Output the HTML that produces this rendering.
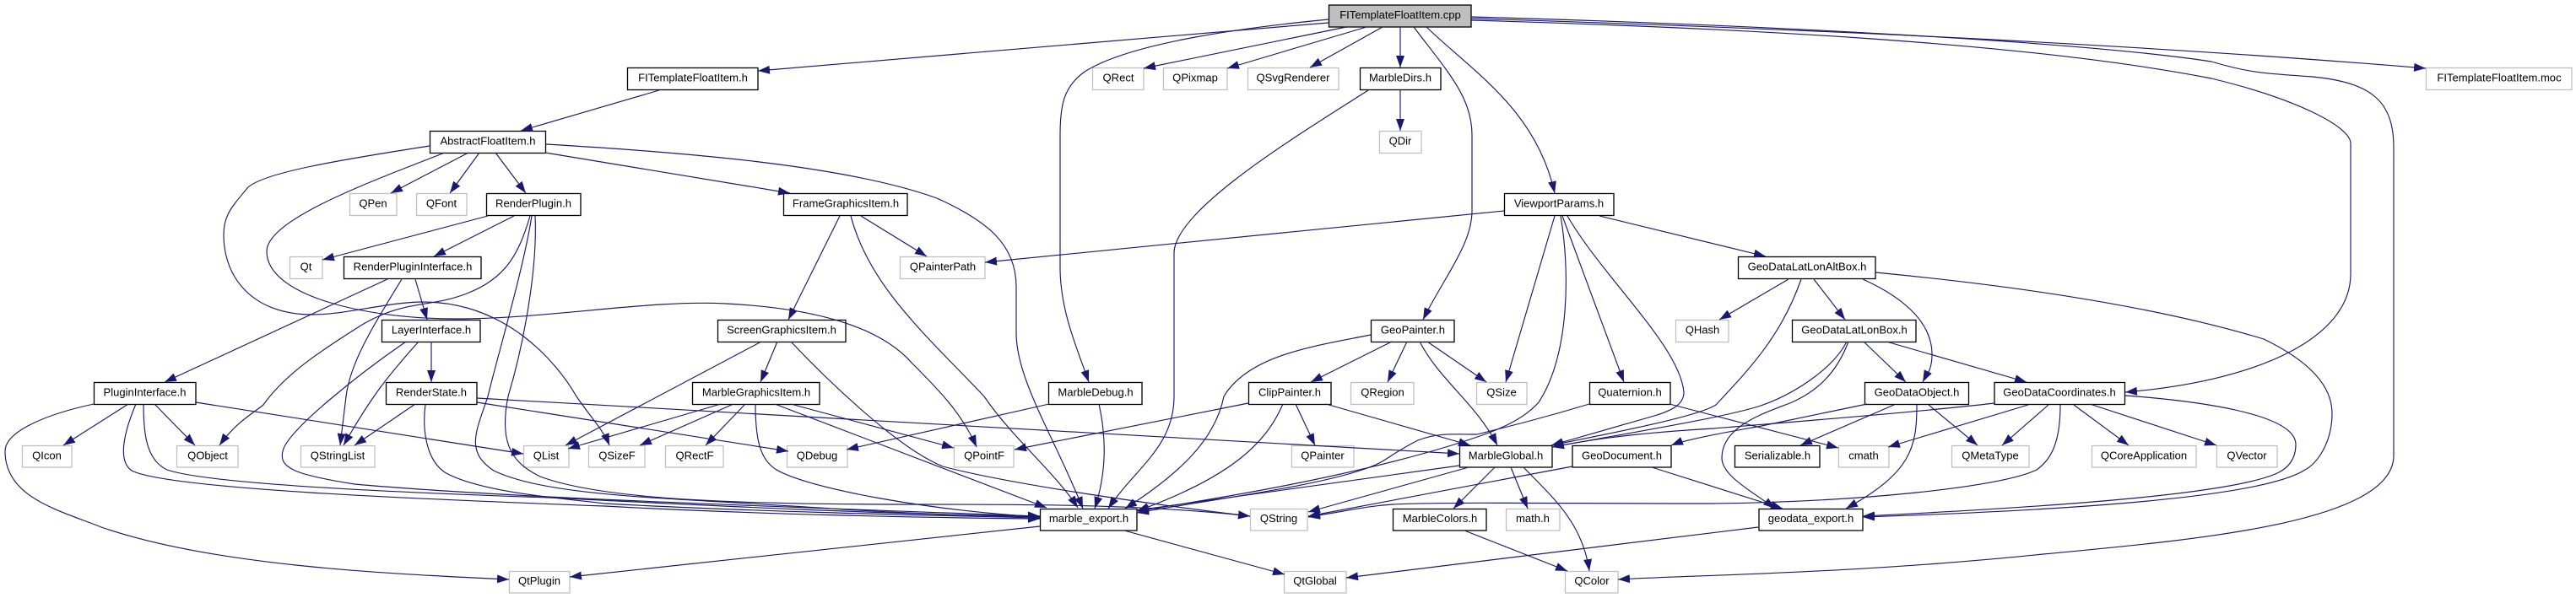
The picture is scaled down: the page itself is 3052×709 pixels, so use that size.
<!DOCTYPE html>
<html><head><meta charset="utf-8"><style>
html,body{margin:0;padding:0;background:#fff}
svg{display:block}
text{font-family:"Liberation Sans",sans-serif;font-size:13.05px;text-anchor:middle;fill:#000}
.b rect{fill:#fff;stroke:#000;stroke-width:1.3}
.g rect{fill:#fff;stroke:#bfbfbf;stroke-width:1.3}
.e path{fill:none;stroke:#191970;stroke-width:1.15;marker-end:url(#a)}
</style></head><body>
<svg xmlns="http://www.w3.org/2000/svg" width="3052" height="709" viewBox="0 0 3052 709">
<defs><marker id="a" markerUnits="userSpaceOnUse" markerWidth="16" markerHeight="12" refX="14" refY="5" orient="auto"><path d="M0 0L14 5L0 10z" fill="#191970"/></marker></defs>
<rect width="3052" height="709" fill="#fff"/>
<rect x="1574.5" y="6" width="168.5" height="26" fill="#bfbfbf" stroke="#000" stroke-width="1.3"/><text x="1659" y="22">FITemplateFloatItem.cpp</text>
<g class="b">
<rect x="743.5" y="80.5" width="154.5" height="26"/><text x="821" y="96.5">FITemplateFloatItem.h</text>
<rect x="509.5" y="155.5" width="137" height="26"/><text x="578" y="171.5">AbstractFloatItem.h</text>
<rect x="576.5" y="229.5" width="111.5" height="26"/><text x="632" y="245.5">RenderPlugin.h</text>
<rect x="928.5" y="229.5" width="146.5" height="26"/><text x="1002" y="245.5">FrameGraphicsItem.h</text>
<rect x="1611.5" y="80.5" width="95.5" height="26"/><text x="1659" y="96.5">MarbleDirs.h</text>
<rect x="1782.5" y="229.5" width="129.5" height="26"/><text x="1847" y="245.5">ViewportParams.h</text>
<rect x="407.5" y="304.5" width="162.5" height="26"/><text x="489" y="320.5">RenderPluginInterface.h</text>
<rect x="2059.5" y="304.5" width="162.5" height="26"/><text x="2141" y="320.5">GeoDataLatLonAltBox.h</text>
<rect x="452.5" y="379.5" width="116.5" height="26"/><text x="511" y="395.5">LayerInterface.h</text>
<rect x="850.5" y="379.5" width="151.5" height="26"/><text x="926" y="395.5">ScreenGraphicsItem.h</text>
<rect x="1624.5" y="379.5" width="98.5" height="26"/><text x="1674" y="395.5">GeoPainter.h</text>
<rect x="2123.5" y="379.5" width="146.5" height="26"/><text x="2197" y="395.5">GeoDataLatLonBox.h</text>
<rect x="111.5" y="453.5" width="120.5" height="26"/><text x="171.500" y="469.5">PluginInterface.h</text>
<rect x="457.5" y="453.5" width="107.500" height="26"/><text x="511" y="469.5">RenderState.h</text>
<rect x="820.5" y="453.5" width="150.5" height="26"/><text x="896" y="469.5">MarbleGraphicsItem.h</text>
<rect x="1242.5" y="453.5" width="110.5" height="26"/><text x="1298" y="469.5">MarbleDebug.h</text>
<rect x="1479.5" y="453.5" width="97.500" height="26"/><text x="1528" y="469.5">ClipPainter.h</text>
<rect x="1883.5" y="453.5" width="95.500" height="26"/><text x="1931" y="469.5">Quaternion.h</text>
<rect x="2209.5" y="453.5" width="123" height="26"/><text x="2271" y="469.5">GeoDataObject.h</text>
<rect x="2363" y="453.5" width="154.5" height="26"/><text x="2440" y="469.5">GeoDataCoordinates.h</text>
<rect x="1729.5" y="528.500" width="109.5" height="25.500"/><text x="1784" y="544.5">MarbleGlobal.h</text>
<rect x="1863" y="528.500" width="117" height="25.500"/><text x="1921.500" y="544.5">GeoDocument.h</text>
<rect x="2055.5" y="528.500" width="100.5" height="25.500"/><text x="2106" y="544.5">Serializable.h</text>
<rect x="1232.5" y="603.5" width="114.5" height="25.500"/><text x="1290" y="619">marble_export.h</text>
<rect x="1650.5" y="603.5" width="110.5" height="25.500"/><text x="1706" y="619">MarbleColors.h</text>
<rect x="2084" y="603.5" width="123" height="25.500"/><text x="2145.500" y="619">geodata_export.h</text>
</g>
<g class="g">
<rect x="414.5" y="229.5" width="55.5" height="26"/><text x="442" y="245.5">QPen</text>
<rect x="493.5" y="229.5" width="59.5" height="26"/><text x="523" y="245.5">QFont</text>
<rect x="1294.5" y="80.5" width="60.5" height="26"/><text x="1325" y="96.5">QRect</text>
<rect x="1378.5" y="80.5" width="75.5" height="26"/><text x="1416" y="96.5">QPixmap</text>
<rect x="1478.5" y="80.5" width="107.5" height="26"/><text x="1532" y="96.5">QSvgRenderer</text>
<rect x="2874.5" y="80.5" width="172.5" height="26"/><text x="2961" y="96.5">FITemplateFloatItem.moc</text>
<rect x="1634.5" y="155.5" width="49.5" height="26"/><text x="1659" y="171.5">QDir</text>
<rect x="343.5" y="304.5" width="38.5" height="26"/><text x="362.500" y="320.5">Qt</text>
<rect x="1066.5" y="304.5" width="100.5" height="26"/><text x="1117" y="320.5">QPainterPath</text>
<rect x="1985.5" y="379.5" width="62.5" height="26"/><text x="2017" y="395.5">QHash</text>
<rect x="1600.5" y="453.5" width="74.500" height="26"/><text x="1638" y="469.5">QRegion</text>
<rect x="1749.5" y="453.5" width="59.500" height="26"/><text x="1779" y="469.5">QSize</text>
<rect x="26.500" y="528.500" width="58.5" height="25.500"/><text x="55.500" y="544.5">QIcon</text>
<rect x="209.5" y="528.500" width="72.5" height="25.500"/><text x="246" y="544.5">QObject</text>
<rect x="356.5" y="528.500" width="87.500" height="25.500"/><text x="400" y="544.5">QStringList</text>
<rect x="620.5" y="528.500" width="53.5" height="25.500"/><text x="647" y="544.5">QList</text>
<rect x="697.5" y="528.500" width="66.5" height="25.500"/><text x="731" y="544.5">QSizeF</text>
<rect x="788.5" y="528.500" width="68.5" height="25.500"/><text x="823" y="544.5">QRectF</text>
<rect x="932.5" y="528.500" width="71.500" height="25.500"/><text x="968" y="544.5">QDebug</text>
<rect x="1130.5" y="528.500" width="70.500" height="25.500"/><text x="1166" y="544.5">QPointF</text>
<rect x="1530.5" y="528.500" width="73.500" height="25.500"/><text x="1567" y="544.5">QPainter</text>
<rect x="2178.5" y="528.500" width="59.500" height="25.500"/><text x="2208" y="544.5">cmath</text>
<rect x="2312.5" y="528.500" width="91.500" height="25.500"/><text x="2358" y="544.5">QMetaType</text>
<rect x="2478.5" y="528.500" width="123.5" height="25.500"/><text x="2540" y="544.5">QCoreApplication</text>
<rect x="2626.5" y="528.500" width="71.500" height="25.500"/><text x="2662" y="544.5">QVector</text>
<rect x="1481.5" y="603.5" width="67.500" height="25.500"/><text x="1515" y="619">QString</text>
<rect x="1784.5" y="603.5" width="63.500" height="25.500"/><text x="1816" y="619">math.h</text>
<rect x="603.5" y="677.5" width="71.500" height="25.500"/><text x="639" y="693">QtPlugin</text>
<rect x="1521.5" y="677.5" width="73.500" height="25.500"/><text x="1558" y="693">QtGlobal</text>
<rect x="1854.5" y="677.5" width="62.500" height="25.500"/><text x="1886" y="693">QColor</text>
</g>
<g class="e">
<path d="M1574 27L898 84"/>
<path d="M1574 23C1480 32 1340 50 1285 85C1260 103 1256 125 1256 160L1256 320C1257 370 1275 410 1290 453"/>
<path d="M1595 32L1355 81"/>
<path d="M1619 32L1454 81"/>
<path d="M1638 32L1552 80"/>
<path d="M1659 32L1659 80"/>
<path d="M1675 32C1715 85 1744 115 1744 160L1744 250C1744 290 1710 330 1686 379"/>
<path d="M1690 32C1745 85 1820 130 1842 229"/>
<path d="M1743 22C2100 33 2500 50 2874 81"/>
<path d="M1743 24C2050 33 2400 50 2620 93C2720 117 2785 150 2785 170L2785 325C2785 395 2690 450 2518 465"/>
<path d="M1743 20C2100 30 2470 50 2620 73C2670 88 2690 87 2740 91C2810 98 2836 120 2836 175L2836 540C2836 620 2600 640 2421 657C2200 680 2000 682 1917 687"/>
<path d="M1659 106L1659 155"/>
<path d="M1621 107C1530 165 1391 250 1391 300L1391 470C1391 530 1345 555 1313 603"/>
<path d="M781 107L617 155"/>
<path d="M555 181L463 229"/>
<path d="M568 181L533 229"/>
<path d="M587 181L623 229"/>
<path d="M646 181L936 229"/>
<path d="M647 171C800 180 1000 195 1110 235C1170 262 1204 290 1204 340L1204 395C1204 450 1250 520 1283 603"/>
<path d="M527 181C440 215 316 260 316 298C316 350 430 378 540 378C650 378 770 355 860 360C960 365 1040 385 1080 430C1110 460 1140 490 1157 530"/>
<path d="M509 173C400 190 310 205 293 223C275 245 265 255 265 278C265 330 300 373 370 373C410 373 460 358 501 358C600 358 660 430 683 470C700 495 715 510 722 528"/>
<path d="M578 256L382 308"/>
<path d="M609 256L514 304"/>
<path d="M628 256C615 300 600 330 553 348C510 365 480 355 429 385C390 410 340 440 312 480C300 490 280 500 260 528"/>
<path d="M630 256C620 320 590 420 578 470C565 510 550 535 585 558C650 590 800 590 1000 604C1100 610 1180 612 1232 613"/>
<path d="M634 256C637 320 620 410 602 470C590 530 610 550 640 565C720 595 900 597 1050 598C1200 598 1350 597 1481 612"/>
<path d="M459 331L195 453"/>
<path d="M476 331C440 390 415 430 410 470L403 528"/>
<path d="M492 331L506 379"/>
<path d="M511 405L511 453"/>
<path d="M496 405C460 445 440 470 407 528"/>
<path d="M481 405C430 440 340 510 335 535C330 555 350 563 420 574C600 590 900 600 1232 612"/>
<path d="M492 479L420 528"/>
<path d="M504 479C500 510 505 545 527 560C570 585 680 592 716 597C900 607 1100 611 1232 614"/>
<path d="M565 472L1729 538"/>
<path d="M565 477L934 535"/>
<path d="M152 479L75 528"/>
<path d="M183 479L231 528"/>
<path d="M232 477L620 538"/>
<path d="M170 479C170 510 172 545 198 557C250 575 500 585 651 590C850 600 1050 610 1232 612"/>
<path d="M161 479C150 505 137 545 156 558C200 580 500 592 716 600C900 610 1100 614 1232 615"/>
<path d="M111 479C60 490 6 510 6 535C6 590 70 605 120 625C250 670 450 680 603 687"/>
<path d="M1232 624L675 684"/>
<path d="M1332 629L1522 681"/>
<path d="M1020 256L1098 304"/>
<path d="M995 256L934 379"/>
<path d="M1008 256C1030 340 1100 400 1166 470C1200 520 1250 560 1277 602"/>
<path d="M1782 250L1167 311"/>
<path d="M1842 256L1784 453"/>
<path d="M1851 256L1924 453"/>
<path d="M1857 256C1900 330 1990 410 1995 465C1995 480 1980 487 1960 493L1838 528"/>
<path d="M1849 256C1860 320 1860 420 1823 477C1800 503 1760 515 1723 527C1600 565 1450 590 1347 606"/>
<path d="M1895 256L2092 304"/>
<path d="M1624 397C1560 410 1480 420 1450 470C1440 520 1400 560 1333 603"/>
<path d="M1649 405L1553 453"/>
<path d="M1667 405L1644 453"/>
<path d="M1691 405L1761 453"/>
<path d="M1682 405C1705 450 1750 480 1774 528"/>
<path d="M1243 479L1003 533"/>
<path d="M1302 479C1311 520 1311 560 1297 603"/>
<path d="M1479 478L1202 533"/>
<path d="M1520 479C1500 525 1460 565 1347 606"/>
<path d="M1535 479L1558 528"/>
<path d="M1571 479L1742 528"/>
<path d="M902 405L670 528"/>
<path d="M921 405L901 453"/>
<path d="M937 405C970 440 1060 530 1117 553C1200 575 1380 600 1481 612"/>
<path d="M854 479L673 532"/>
<path d="M869 479L758 528"/>
<path d="M883 479L836 528"/>
<path d="M937 479L1130 531"/>
<path d="M918 479L1240 602"/>
<path d="M895 479C895 520 900 545 920 557C960 580 1100 605 1232 613"/>
<path d="M1883 479C1830 495 1790 505 1750 515C1720 515 1703 513 1680 522C1650 537 1640 548 1625 553C1570 575 1450 590 1347 608"/>
<path d="M1978 479L2178 531"/>
<path d="M2134 331C2110 400 2070 440 2033 480C2010 495 1900 515 1838 528"/>
<path d="M2188 405C2170 440 2120 470 2083 482C2040 495 1950 510 1839 530"/>
<path d="M2190 405C2175 445 2150 465 2123 477C2090 490 2040 505 2040 543C2040 565 2080 585 2103 603"/>
<path d="M2212 479C2160 490 2110 500 2087 505C2060 510 2000 520 1980 528"/>
<path d="M2363 478C2260 490 2100 502 2030 508C1960 512 1900 518 1839 530"/>
<path d="M2244 480L2133 528"/>
<path d="M2285 480L2343 528"/>
<path d="M2271 480C2271 530 2265 560 2187 603"/>
<path d="M2403 480L2237 530"/>
<path d="M2427 480L2372 528"/>
<path d="M2441 480C2441 525 2430 545 2413 557C2370 578 2200 595 2030 597C1850 597 1700 595 1650 598C1620 600 1600 605 1550 613"/>
<path d="M2457 480L2522 528"/>
<path d="M2476 479L2626 528"/>
<path d="M2518 469C2600 475 2720 490 2720 527C2720 545 2710 555 2700 560C2650 585 2450 600 2207 612"/>
<path d="M2222 323C2400 340 2560 365 2682 402C2740 430 2763 460 2763 490C2763 525 2745 550 2731 557C2680 590 2450 605 2207 613"/>
<path d="M2119 331L2037 379"/>
<path d="M2149 331L2186 379"/>
<path d="M2207 331C2260 355 2289 385 2289 420C2289 440 2282 445 2278 453"/>
<path d="M2208 405L2258 453"/>
<path d="M2235 405L2401 453"/>
<path d="M1957 554L2112 603"/>
<path d="M1863 553L1550 612"/>
<path d="M1740 554L1550 607"/>
<path d="M1729 552L1347 605"/>
<path d="M1771 554L1722 603"/>
<path d="M1790 554L1810 603"/>
<path d="M1805 554C1840 590 1875 620 1883 677"/>
<path d="M1735 629L1857 677"/>
<path d="M2083 625L1595 685"/>
</g>
</svg>
</body></html>
